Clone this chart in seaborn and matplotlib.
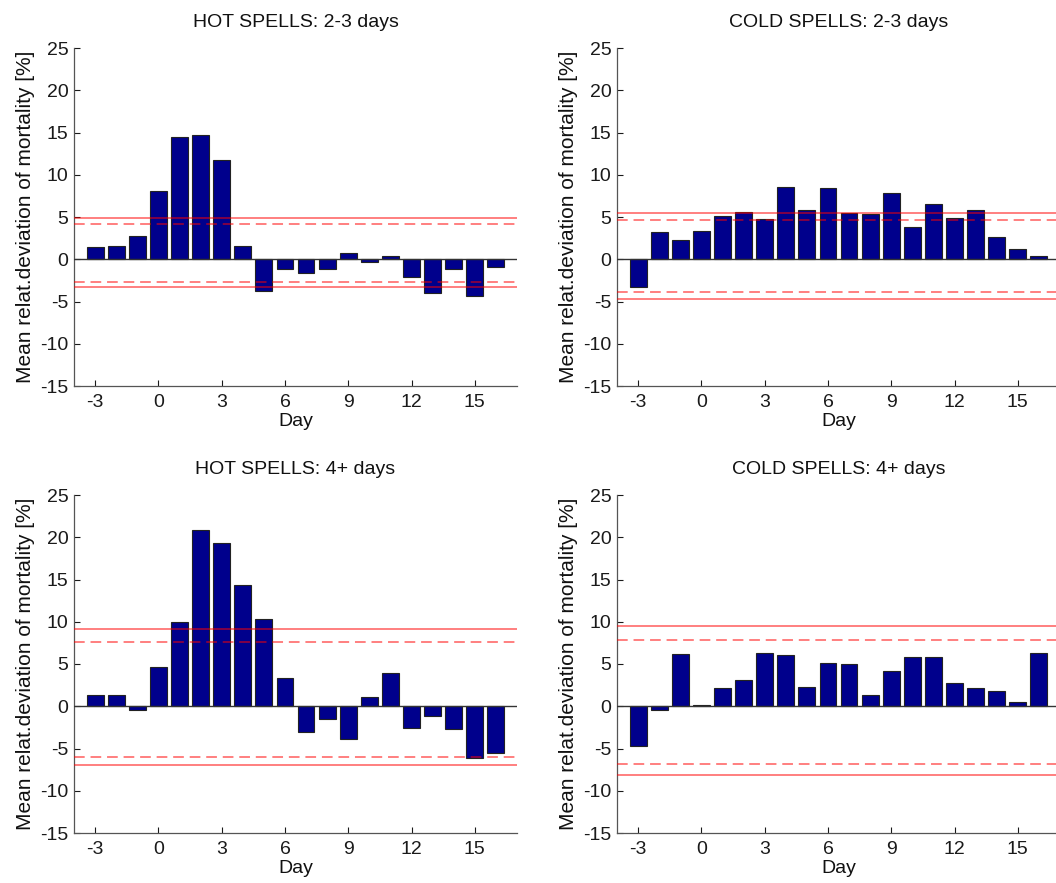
import matplotlib
matplotlib.use("Agg")
import matplotlib.pyplot as plt
import seaborn as sns
import numpy as np
import pandas as pd

sns.set_style("ticks")
plt.rcParams["font.family"] = ["Liberation Sans", "DejaVu Sans"]
plt.rcParams["axes.unicode_minus"] = False

days = list(range(-3, 17))

titles = ["HOT SPELLS: 2-3 days", "COLD SPELLS: 2-3 days",
          "HOT SPELLS: 4+ days", "COLD SPELLS: 4+ days"]

hot_short = [1.5, 1.6, 2.8, 8.1, 14.5, 14.7, 11.7, 1.6, -3.7, -1.1,
             -1.6, -1.2, 0.75, -0.3, 0.4, -2.1, -4.0, -1.1, -4.3, -0.9]
cold_short = [-3.3, 3.2, 2.3, 3.3, 5.1, 5.65, 4.8, 8.6, 5.8, 8.4,
              5.45, 5.3, 7.8, 3.8, 6.5, 4.9, 5.85, 2.6, 1.2, 0.4]
hot_long = [1.3, 1.3, -0.5, 4.6, 10.0, 20.8, 19.3, 14.4, 10.3, 3.3,
            -3.1, -1.5, -3.9, 1.1, 3.9, -2.6, -1.2, -2.7, -6.15, -5.5]
cold_long = [-4.65, -0.5, 6.2, 0.15, 2.2, 3.05, 6.35, 6.1, 2.3, 5.1,
             5.0, 1.3, 4.15, 5.85, 5.85, 2.8, 2.2, 1.85, 0.5, 6.35]

# significance bounds: (solid upper, dashed upper, dashed lower, solid lower)
hot_short_bounds = [4.9, 4.2, -2.7, -3.3]
cold_short_bounds = [5.5, 4.65, -3.9, -4.7]
hot_long_bounds = [9.1, 7.65, -5.95, -7.0]
cold_long_bounds = [9.5, 7.8, -6.85, -8.15]

series = [hot_short, cold_short, hot_long, cold_long]
bounds = [hot_short_bounds, cold_short_bounds, hot_long_bounds, cold_long_bounds]

W, H = 1056, 883
fig = plt.figure(figsize=(W / 100, H / 100), dpi=100)

# axes boxes in pixels: left, top, right, bottom
boxes = [(74, 48, 517, 386), (617, 48, 1060, 386),
         (74, 495, 517, 833), (617, 495, 1060, 833)]

FS = 14
bar_color = "#00008C"
for box, title, vals, bnd in zip(boxes, titles, series, bounds):
    l, t, r, b = box
    ax = fig.add_axes([l / W, 1 - b / H, (r - l) / W, (b - t) / H])
    df = pd.DataFrame({"day": days, "value": vals})
    sns.barplot(data=df, x="day", y="value", native_scale=True, width=0.8,
                color=bar_color, saturation=1, edgecolor="#222222",
                linewidth=0.8, ax=ax, zorder=2)
    ax.axhline(0, color="#333333", lw=1.0, zorder=3)
    su, du, dl, sl = bnd
    for yv in (su, sl):
        ax.axhline(yv, color="red", alpha=0.5, lw=1.4, zorder=4)
    for yv in (du, dl):
        ax.axhline(yv, color="red", alpha=0.5, lw=1.4, ls=(0, (5.5, 3)), zorder=4)
    ax.set_xlim(-4, 17)
    ax.set_ylim(-15, 25)
    ax.set_xticks([-3, 0, 3, 6, 9, 12, 15])
    ax.set_yticks(np.arange(-15, 26, 5))
    ax.tick_params(direction="in", length=4, width=0.8, labelsize=FS,
                   colors="#1a1a1a")
    ax.tick_params(axis="x", pad=6)
    ax.tick_params(axis="y", pad=4)
    for s in ("top", "right"):
        ax.spines[s].set_visible(False)
    for s in ("left", "bottom"):
        ax.spines[s].set_color("#555555")
        ax.spines[s].set_linewidth(0.9)
    ax.set_title(title, fontsize=FS, pad=15, color="#111111")
    ax.set_xlabel("Day", fontsize=FS, labelpad=1, color="#111111")
    ax.set_ylabel("Mean relat.deviation of mortality [%]", fontsize=FS + 1,
                  labelpad=4, color="#111111")

fig.savefig("out.png", dpi=100, facecolor="white")
